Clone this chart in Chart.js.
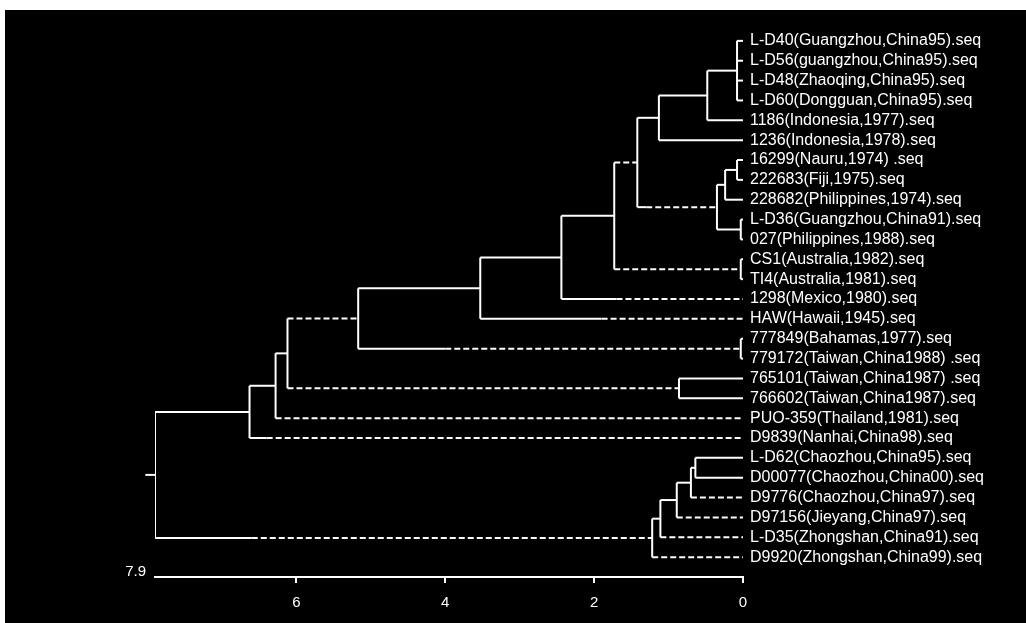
<!DOCTYPE html>
<html>
<head>
<meta charset="utf-8">
<script src="https://cdn.jsdelivr.net/npm/chart.js@4"></script>
<style>
  html, body { margin: 0; padding: 0; background: #fff; }
  #wrap { position: absolute; left: 5px; top: 10px; width: 1021px; height: 613px; background: #000; }
</style>
</head>
<body>
<div id="wrap"><canvas id="tree"></canvas></div>
<script>
// leaves, top to bottom
const leafNames = [
  'L-D40(Guangzhou,China95).seq', 'L-D56(guangzhou,China95).seq', 'L-D48(Zhaoqing,China95).seq',
  'L-D60(Dongguan,China95).seq', '1186(Indonesia,1977).seq', '1236(Indonesia,1978).seq',
  '16299(Nauru,1974) .seq', '222683(Fiji,1975).seq', '228682(Philippines,1974).seq',
  'L-D36(Guangzhou,China91).seq', '027(Philippines,1988).seq', 'CS1(Australia,1982).seq',
  'TI4(Australia,1981).seq', '1298(Mexico,1980).seq', 'HAW(Hawaii,1945).seq',
  '777849(Bahamas,1977).seq', '779172(Taiwan,China1988) .seq', '765101(Taiwan,China1987) .seq',
  '766602(Taiwan,China1987).seq', 'PUO-359(Thailand,1981).seq', 'D9839(Nanhai,China98).seq',
  'L-D62(Chaozhou,China95).seq', 'D00077(Chaozhou,China00).seq', 'D9776(Chaozhou,China97).seq',
  'D97156(Jieyang,China97).seq', 'L-D35(Zhongshan,China91).seq', 'D9920(Zhongshan,China99).seq'
];

// internal nodes: id, height (distance), children (leaf index or node id)
const nodeIds = ['T', 'S', 'Q', 'W', 'U', 'V', 'R', 'O', 'P', 'N', 'M', 'K',
                 'L', 'I', 'J', 'H', 'B', 'A', 'G', 'F', 'E', 'D', 'C', 'root'];
const nodeHeights = [0.08, 0.48, 1.13, 0.08, 0.24, 0.03, 0.35, 1.42, 0.03, 1.73, 2.44, 3.53,
                     0.03, 5.17, 0.86, 6.12, 6.28, 6.63, 0.64, 0.70, 0.89, 1.11, 1.22, 7.9];
const nodeChildren = [
  [0, 1, 2, 3], ['T', 4], ['S', 5], [6, 7], ['W', 8], [9, 10], ['U', 'V'], ['Q', 'R'],
  [11, 12], ['O', 'P'], ['N', 13], ['M', 14], [15, 16], ['K', 'L'], [17, 18], ['I', 'J'],
  ['H', 19], ['B', 20], [21, 22], ['G', 23], ['F', 24], ['E', 25], ['D', 26], ['A', 'C']
];

const xTicks = [0, 2, 4, 6];
const rootLabel = '7.9';

// branches that look dashed in the scan (value = distance where the dashes begin)
const dashFrom = {
  '13': 1.7, '14': 1.9, '19': 6.28, '20': 6.4, '23': 0.70, '24': 0.89, '25': 1.11, '26': 1.22,
  'R': 1.3, 'O': 1.73, 'P': 1.73, 'L': 4.0, 'J': 6.12, 'I': 6.12, 'C': 6.6
};

const heightOf = k => typeof k === 'number' ? 0 : nodeHeights[nodeIds.indexOf(k)];
const yCache = {};
function yOf(k) {
  if (typeof k === 'number') return k;
  if (yCache[k] !== undefined) return yCache[k];
  const ys = nodeChildren[nodeIds.indexOf(k)].map(yOf);
  yCache[k] = (Math.min(...ys) + Math.max(...ys)) / 2;
  return yCache[k];
}

const datasets = [];
function seg(pts, dashed, extra) {
  datasets.push(Object.assign({
    data: pts,
    showLine: true,
    borderColor: '#fff',
    borderWidth: 2,
    borderDash: dashed ? [6, 3] : [],
    pointRadius: 0,
    fill: false
  }, extra || {}));
}

nodeIds.forEach((id, i) => {
  const h = nodeHeights[i];
  const kids = nodeChildren[i];
  const ys = kids.map(yOf);
  // vertical joint
  seg([{ x: h, y: Math.min(...ys) }, { x: h, y: Math.max(...ys) }], false);
  // horizontal branches
  kids.forEach(k => {
    const y = yOf(k);
    const d = dashFrom[String(k)];
    if (d === undefined) {
      seg([{ x: h, y }, { x: heightOf(k), y }], false);
    } else {
      const m = Math.min(d, h);
      if (m < h) seg([{ x: h, y }, { x: m, y }], false);
      seg([{ x: m, y }, { x: heightOf(k), y }], true);
    }
  });
});
// root stub
seg([{ x: 7.9, y: yOf('root') }, { x: 8.03, y: yOf('root') }], false, { clip: false });

const rootText = {
  id: 'rootText',
  afterDraw(chart) {
    const x = chart.scales.x;
    const ctx = chart.ctx;
    ctx.save();
    ctx.fillStyle = '#fff';
    ctx.font = '15px "Liberation Sans", Arial, sans-serif';
    ctx.textAlign = 'right';
    ctx.textBaseline = 'middle';
    ctx.fillText(rootLabel, x.getPixelForValue(7.9) - 9, x.top - 5);
    ctx.restore();
  }
};

new Chart(document.getElementById('tree').getContext('2d'), {
  type: 'scatter',
  data: { datasets },
  options: {
    responsive: true,
    maintainAspectRatio: false,
    animation: false,
    events: [],
    layout: { padding: { left: 150, top: 11, right: 0, bottom: 0 } },
    plugins: { legend: { display: false }, tooltip: { enabled: false } },
    scales: {
      x: {
        type: 'linear',
        reverse: true,
        min: 0,
        max: 7.9,
        afterBuildTicks: s => { s.ticks = xTicks.map(v => ({ value: v })); },
        afterFit: s => { s.height = 46; },
        grid: { drawOnChartArea: false, color: '#fff', tickLength: 6, lineWidth: 2 },
        border: { color: '#fff', width: 2 },
        ticks: { color: '#fff', padding: 11, font: { family: '"Liberation Sans", Arial', size: 15 } }
      },
      y: {
        type: 'linear',
        position: 'right',
        reverse: true,
        min: -1,
        max: 27,
        afterBuildTicks: s => { s.ticks = leafNames.map((n, i) => ({ value: i })); },
        afterFit: s => { s.width = 283; s.paddingTop = 0; s.paddingBottom = 0; },
        grid: { display: false, drawTicks: false },
        border: { display: false },
        ticks: {
          color: '#fff',
          padding: 7,
          autoSkip: false,
          callback: v => leafNames[v] || '',
          font: { family: '"Liberation Sans", Arial', size: 16 }
        }
      }
    }
  },
  plugins: [rootText]
});
</script>
</body>
</html>
